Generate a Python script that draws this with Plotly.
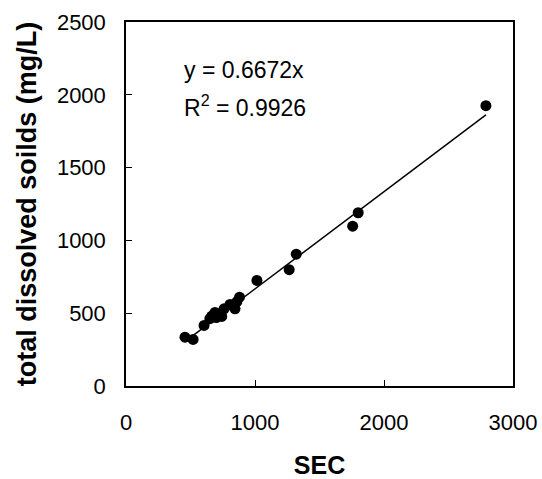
import plotly.graph_objects as go

sec = [457, 520, 605, 650, 665, 690, 700, 742, 760, 806, 845, 860, 880, 1015, 1265, 1320, 1757, 1800, 2790]
tds = [335, 320, 416, 462, 480, 505, 470, 478, 530, 560, 530, 580, 610, 725, 799, 905, 1098, 1190, 1925]
slope = 0.6672
r2 = 0.9926

x_ticks = [0, 1000, 2000, 3000]
y_ticks = [0, 500, 1000, 1500, 2000, 2500]

fx = [min(sec), max(sec)]
fy = [slope * v for v in fx]

fig = go.Figure()
fig.add_trace(go.Scatter(x=fx, y=fy, mode="lines", line=dict(color="black", width=1.5),
                         showlegend=False, hoverinfo="skip"))
fig.add_trace(go.Scatter(x=sec, y=tds, mode="markers",
                         marker=dict(color="black", size=11), showlegend=False))

font = "Liberation Sans, Arial, sans-serif"
fig.add_annotation(xref="paper", yref="paper", x=0.145, y=0.868, xanchor="left", yanchor="middle",
                   text=f"y = {slope}x", showarrow=False, font=dict(family=font, size=23, color="black"))
fig.add_annotation(xref="paper", yref="paper", x=0.145, y=0.77, xanchor="left", yanchor="middle",
                   text=f"R<sup>2</sup> = {r2}", showarrow=False, font=dict(family=font, size=23, color="black"))

fig.update_layout(
    width=542, height=479,
    margin=dict(l=126, r=29, t=22, b=93),
    plot_bgcolor="white", paper_bgcolor="white",
    font=dict(family=font, size=22, color="black"),
    xaxis=dict(range=[0, 3000], tickvals=x_ticks, ticks="inside", ticklen=6, tickcolor="black",
               showline=True, linecolor="black", linewidth=1.5, mirror=True, showgrid=False,
               zeroline=False, ticklabelstandoff=16, automargin=False,
               title=dict(text="<b>SEC</b>", font=dict(size=25), standoff=25)),
    yaxis=dict(range=[0, 2500], tickvals=y_ticks, ticks="inside", ticklen=6, tickcolor="black",
               showline=True, linecolor="black", linewidth=1.5, mirror=True, showgrid=False,
               zeroline=False, ticklabelstandoff=14, automargin=False,
               title=dict(text="<b>total dissolved soilds (mg/L)</b>", font=dict(size=27), standoff=12)),
)
fig.write_html("out.html")
